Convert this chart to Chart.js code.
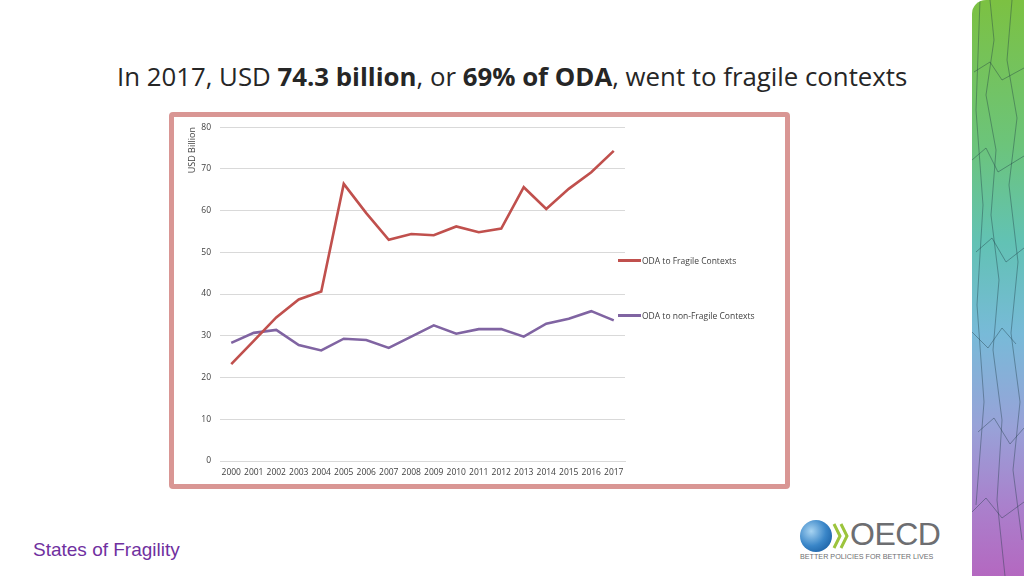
<!DOCTYPE html>
<html lang="en">
<head>
  <meta charset="UTF-8">
  <title>ODA to fragile contexts</title>
  <script src="https://cdn.jsdelivr.net/npm/chart.js"></script>
  <style>
    body {
      margin: 0;
      width: 1024px;
      height: 576px;
      background: #fff;
      position: relative;
      overflow: hidden;
      font-family: 'Open Sans', sans-serif;
    }

    #title {
      position: absolute;
      left: 117px;
      top: 59px;
      font-size: 25.8px;
      color: #262626;
      white-space: nowrap;
      line-height: 34px;
    }

    #frame {
      position: absolute;
      left: 169px;
      top: 112px;
      width: 611px;
      height: 367px;
      border: 5px solid #d99694;
      border-radius: 4px;
    }

    #chartBox {
      position: absolute;
      left: 175px;
      top: 113px;
      width: 610px;
      height: 371px;
    }

    .legend-item {
      position: absolute;
      left: 618px;
      font-size: 8.5px;
      color: #404040;
      display: flex;
      align-items: center;
      white-space: nowrap;
    }

    .legend-item span.swatch {
      display: inline-block;
      width: 23px;
      height: 2.5px;
      margin-right: 1px;
    }

    #strip {
      position: absolute;
      left: 972px;
      top: 0;
      width: 52px;
      height: 576px;
      border-top-left-radius: 14px;
      overflow: hidden;
      background: linear-gradient(to bottom, #7cc142 0%, #6cc47a 25%, #62c2b4 42%, #78bad8 58%, #98a2d8 74%, #aa80cc 88%, #b468c0 100%);
    }

    #footer {
      position: absolute;
      left: 33px;
      top: 539px;
      font-family: 'Liberation Sans', Arial, sans-serif;
      font-size: 19px;
      color: #7030a0;
    }

    #logo {
      position: absolute;
      left: 798px;
      top: 518px;
      width: 140px;
      height: 44px;
    }

    #logo .globe {
      position: absolute;
      left: 2px;
      top: 2px;
      width: 32px;
      height: 32px;
      border-radius: 50%;
      background: radial-gradient(circle at 35% 35%, #a8d4f2 0%, #3a86c8 50%, #0d4f94 100%);
    }

    #logo svg.chev {
      position: absolute;
      left: 34px;
      top: 4px;
    }

    #logo .word {
      position: absolute;
      left: 52px;
      top: -2px;
      font-family: 'Liberation Sans', Arial, sans-serif;
      font-size: 32px;
      color: #6d6e71;
      letter-spacing: -0.5px;
    }

    #logo .tag {
      position: absolute;
      left: 2px;
      top: 34px;
      font-family: 'Liberation Sans', Arial, sans-serif;
      font-size: 7.2px;
      color: #6d6e71;
      white-space: nowrap;
    }
  </style>
</head>
<body>

  <div id="title">In 2017, USD <b>74.3 billion</b>, or <b>69% of ODA</b>, went to fragile contexts</div>

  <div id="frame"></div>
  <div id="chartBox">
    <canvas id="odaChart"></canvas>
  </div>
  <div id="legend"></div>

  <div id="strip">
    <svg width="52" height="576" style="position:absolute;left:0;top:0">
      <g fill="none" stroke="#1d3a44" stroke-opacity="0.5" stroke-width="0.8">
        <path d="M18 0 L22 40 L14 95 L24 150 L19 215 L27 280 L21 350 L30 420 L25 500 L33 576"/>
        <path d="M40 0 L35 60 L45 118 L37 185 L46 262 L39 333 L48 402 L41 470 L50 540"/>
        <path d="M2 72 L18 62 L30 80 L52 68"/>
        <path d="M0 160 L14 148 L26 172 L52 156"/>
        <path d="M4 252 L20 238 L34 262 L52 248"/>
        <path d="M0 332 L16 348 L30 328 L44 344"/>
        <path d="M6 432 L22 418 L38 444 L52 428"/>
        <path d="M0 512 L14 498 L30 518 L52 502"/>
        <path d="M8 0 L4 110 L11 205 L5 305 L12 402 L4 505"/>
      </g>
    </svg>
  </div>

  <div id="footer">States of Fragility</div>

  <div id="logo">
    <div class="globe"></div>
    <svg class="chev" width="18" height="28">
      <g fill="none" stroke="#9cc43c" stroke-width="3">
        <path d="M2 2 L8 14 L2 26"/>
        <path d="M9 2 L15 14 L9 26"/>
      </g>
    </svg>
    <div class="word">OECD</div>
    <div class="tag">BETTER POLICIES FOR BETTER LIVES</div>
  </div>

  <script>
    const years = ['2000', '2001', '2002', '2003', '2004', '2005', '2006', '2007', '2008',
                   '2009', '2010', '2011', '2012', '2013', '2014', '2015', '2016', '2017'];
    const fragile = [23.2, 28.8, 34.4, 38.7, 40.6, 66.4, 59.4, 53.0, 54.4,
                     54.1, 56.2, 54.8, 55.7, 65.6, 60.4, 65.2, 69.2, 74.3];
    const nonFragile = [28.3, 30.7, 31.4, 27.8, 26.5, 29.3, 29.0, 27.1, 29.8,
                        32.5, 30.5, 31.6, 31.6, 29.8, 32.9, 34.1, 35.9, 33.7];
    const seriesNames = ['ODA to Fragile Contexts', 'ODA to non-Fragile Contexts'];
    const yTicks = [0, 10, 20, 30, 40, 50, 60, 70, 80];

    const colors = ['#c0504d', '#8064a2'];
    const tickFont = { family: "'Open Sans', sans-serif", size: 8.5 };

    const ctx = document.getElementById('odaChart').getContext('2d');
    const chart = new Chart(ctx, {
      type: 'line',
      data: {
        labels: years,
        datasets: [
          { label: seriesNames[0], data: fragile, borderColor: colors[0], borderWidth: 2.6, pointRadius: 0, tension: 0 },
          { label: seriesNames[1], data: nonFragile, borderColor: colors[1], borderWidth: 2.6, pointRadius: 0, tension: 0 }
        ]
      },
      options: {
        responsive: true,
        maintainAspectRatio: false,
        animation: false,
        layout: { padding: { top: 4, right: 160, left: 0, bottom: 0 } },
        plugins: {
          legend: { display: false },
          tooltip: { enabled: false }
        },
        scales: {
          x: {
            offset: true,
            grid: { display: false, drawTicks: false },
            border: { display: true, color: '#d9d9d9' },
            ticks: { color: '#404040', font: tickFont, autoSkip: false, maxRotation: 0, padding: 6 },
            afterFit: s => { s.height = 23; }
          },
          y: {
            min: 0,
            max: 80,
            afterBuildTicks: s => { s.ticks = yTicks.map(v => ({ value: v })); },
            grid: { color: '#d9d9d9', drawTicks: false },
            border: { display: false },
            ticks: { color: '#404040', font: tickFont, padding: 9 },
            title: {
              display: true,
              text: 'USD Billion',
              align: 'end',
              color: '#404040',
              font: { family: "'Open Sans', sans-serif", size: 9 },
              padding: { top: 12, bottom: 0 }
            },
            afterFit: s => { s.width = 45; }
          }
        }
      }
    });

    // legend sits to the right of the plot, one entry per series
    const legend = document.getElementById('legend');
    const legendTops = [262, 317];
    seriesNames.forEach((name, i) => {
      const item = document.createElement('div');
      item.className = 'legend-item';
      item.style.top = (legendTops[i] - 7) + 'px';
      item.innerHTML = '<span class="swatch" style="background:' + colors[i] + '"></span>' + name;
      legend.appendChild(item);
    });
  </script>
</body>
</html>
